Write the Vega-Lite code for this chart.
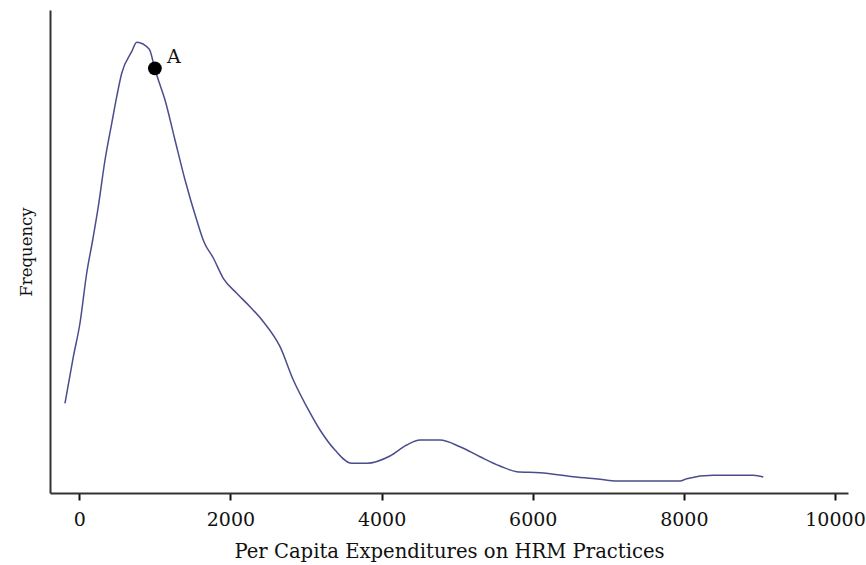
{
  "$schema": "https://vega.github.io/schema/vega-lite/v6.json",
  "width": 798,
  "height": 483,
  "autosize": {"type": "none"},
  "padding": {"left": 50, "top": 10, "right": 18, "bottom": 72},
  "background": "white",
  "config": {"view": {"stroke": null}},
  "datasets": {
    "curve": [
      {"x": -190, "y": 89.7},
      {"x": -79, "y": 136.3},
      {"x": 9, "y": 170},
      {"x": 98, "y": 220},
      {"x": 177, "y": 253},
      {"x": 251, "y": 286.3},
      {"x": 340, "y": 333},
      {"x": 429, "y": 369.7},
      {"x": 495, "y": 396.3},
      {"x": 561, "y": 419.7},
      {"x": 693, "y": 441.3},
      {"x": 760, "y": 450.7},
      {"x": 926, "y": 443.7},
      {"x": 998, "y": 424.7},
      {"x": 1032, "y": 416.3},
      {"x": 1134, "y": 393},
      {"x": 1266, "y": 353},
      {"x": 1399, "y": 313},
      {"x": 1553, "y": 273},
      {"x": 1650, "y": 251},
      {"x": 1773, "y": 235},
      {"x": 1905, "y": 214.7},
      {"x": 2083, "y": 199.7},
      {"x": 2259, "y": 186.3},
      {"x": 2435, "y": 171.3},
      {"x": 2656, "y": 146.3},
      {"x": 2832, "y": 113},
      {"x": 3009, "y": 86.3},
      {"x": 3185, "y": 63},
      {"x": 3383, "y": 43},
      {"x": 3605, "y": 29.7},
      {"x": 3803, "y": 29.7},
      {"x": 4111, "y": 37},
      {"x": 4332, "y": 48},
      {"x": 4508, "y": 53},
      {"x": 4773, "y": 53},
      {"x": 5037, "y": 46.3},
      {"x": 5302, "y": 36.3},
      {"x": 5567, "y": 27},
      {"x": 5788, "y": 21.3},
      {"x": 6096, "y": 20.3},
      {"x": 6537, "y": 16.3},
      {"x": 6890, "y": 13.7},
      {"x": 7111, "y": 12},
      {"x": 7949, "y": 12},
      {"x": 8038, "y": 14.3},
      {"x": 8390, "y": 17.7},
      {"x": 8919, "y": 17.7},
      {"x": 9051, "y": 16}
    ],
    "marker": [
      {"x": 1000, "y": 424.7, "label": "A"}
    ]
  },
  "encoding": {
    "x": {
      "field": "x",
      "type": "quantitative",
      "scale": {"domain": [-388, 10172], "nice": false, "zero": false},
      "axis": {
        "title": "Per Capita Expenditures on HRM Practices",
        "values": [0, 2000, 4000, 6000, 8000, 10000],
        "grid": false,
        "domainColor": "#333333",
        "domainWidth": 2,
        "tickColor": "#111111",
        "tickWidth": 2,
        "tickSize": 7,
        "labelFont": "DejaVu Serif",
        "labelFontSize": 19,
        "labelColor": "#111111",
        "labelPadding": 10,
        "labelFlush": false,
        "format": "d",
        "titleFont": "DejaVu Serif",
        "titleFontSize": 19.6,
        "titleFontWeight": "normal",
        "titleColor": "#111111",
        "titlePadding": 13
      }
    },
    "y": {
      "field": "y",
      "type": "quantitative",
      "scale": {"domain": [0, 483], "nice": false},
      "axis": {
        "title": "Frequency",
        "labels": false,
        "ticks": false,
        "grid": false,
        "domainColor": "#333333",
        "domainWidth": 2,
        "titleFont": "DejaVu Serif",
        "titleFontSize": 16.5,
        "titleFontWeight": "normal",
        "titleColor": "#111111",
        "titlePadding": 16
      }
    }
  },
  "layer": [
    {
      "data": {"name": "curve"},
      "mark": {"type": "line", "color": "#4b4c8c", "strokeWidth": 1.5, "interpolate": "monotone"}
    },
    {
      "data": {"name": "marker"},
      "mark": {"type": "point", "filled": true, "color": "#000000", "size": 190, "opacity": 1, "shape": "circle"}
    },
    {
      "data": {"name": "marker"},
      "mark": {"type": "text", "font": "DejaVu Serif", "fontSize": 19, "color": "#111111", "dx": 19, "dy": -11, "align": "center", "baseline": "middle"},
      "encoding": {"text": {"field": "label"}}
    }
  ]
}
